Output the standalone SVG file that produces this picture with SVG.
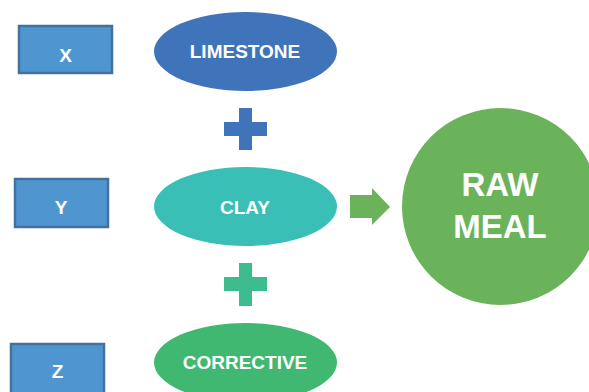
<svg xmlns="http://www.w3.org/2000/svg" width="589" height="392" viewBox="0 0 589 392">
<style>
.box{fill:#4F96D1;stroke:#41719C;stroke-width:2.5}
.t{font-family:"Liberation Sans",Arial,sans-serif;font-weight:bold;fill:#FFFFFF;text-anchor:middle}
.s{font-size:19px}
.b{font-size:33px}
</style>
<rect width="589" height="392" fill="#FFFFFF"/>
<g id="x">
<rect class="box" x="19" y="26" width="93" height="47"/>
<text class="t s" x="65.5" y="62">X</text>
</g>
<g id="y">
<rect class="box" x="15" y="179" width="93" height="48"/>
<text class="t s" x="61" y="214">Y</text>
</g>
<g id="z">
<rect class="box" x="11" y="344" width="93" height="50"/>
<text class="t s" x="57.5" y="378">Z</text>
</g>
<g id="limestone">
<ellipse cx="245.5" cy="51.5" rx="91.5" ry="39.5" fill="#3F74BA"/>
<text class="t s" x="245" y="58">LIMESTONE</text>
</g>
<g id="clay">
<ellipse cx="245.5" cy="206.5" rx="91.5" ry="39.5" fill="#39BFB6"/>
<text class="t s" x="245" y="214">CLAY</text>
</g>
<g id="corrective">
<ellipse cx="245.5" cy="362.5" rx="91.5" ry="39.5" fill="#40B872"/>
<text class="t s" x="245" y="369">CORRECTIVE</text>
</g>
<g id="rawmeal">
<circle cx="500.5" cy="206.5" r="98.5" fill="#6BB35A"/>
<text class="t b" x="500" y="196">RAW</text>
<text class="t b" x="500" y="238">MEAL</text>
</g>
<g id="connectors">
<path d="M239 108H252V122H267V136H252V150H239V136H224V122H239Z" fill="#3F74BA"/>
<path d="M239 263H252V277H267V291H252V306H239V291H224V277H239Z" fill="#3DBD8E"/>
<path d="M350 195H372V188L390 207L372 225V218H350Z" fill="#6BB35A"/>
</g>
</svg>
